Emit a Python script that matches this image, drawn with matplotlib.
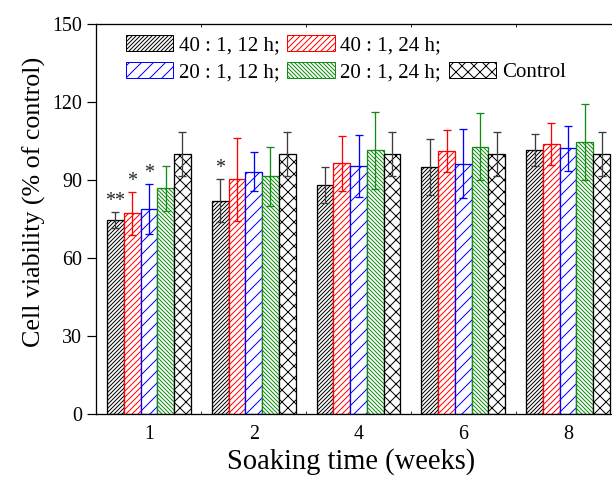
import numpy as np
import matplotlib
matplotlib.use("Agg")
import matplotlib.pyplot as plt
from matplotlib.patches import Patch, Rectangle

# --- data ---
weeks = ["1", "2", "4", "6", "8"]
labels = ["40 : 1, 12 h;", "40 : 1, 24 h;", "20 : 1, 12 h;", "20 : 1, 24 h;", "Control"]

v40_12 = [74.6, 82.1, 88.1, 94.9, 101.5]
e40_12 = [3.0, 8.2, 7.0, 10.7, 6.1]
v40_24 = [77.2, 90.3, 96.4, 101.2, 103.8]
e40_24 = [8.3, 16.0, 10.5, 8.0, 8.2]
v20_12 = [78.7, 93.2, 95.4, 96.2, 102.2]
e20_12 = [9.6, 7.4, 11.8, 13.3, 8.7]
v20_24 = [86.8, 91.4, 101.5, 102.8, 104.6]
e20_24 = [8.6, 11.4, 14.8, 12.8, 14.6]
vctrl = [100, 100, 100, 100, 100]
ectrl = [8.4, 8.4, 8.4, 8.4, 8.4]

# significance marks: (group index, series index, text)
stars = [(0, 0, "**"), (0, 1, "*"), (0, 2, "*"), (1, 0, "*")]

values = [v40_12, v40_24, v20_12, v20_24, vctrl]
errors = [e40_12, e40_24, e20_12, e20_24, ectrl]

colors = ["black", "red", "blue", "#138a13", "black"]
ecolors = ["#3c3c3c", "red", "blue", "#138a13", "#3c3c3c"]
hatches = ["//////", "////", "//", "\\\\\\\\\\\\", "xx"]

plt.rcParams["font.family"] = "Liberation Serif"
plt.rcParams["hatch.linewidth"] = 1.0

fig = plt.figure(figsize=(612 / 72, 479 / 72), dpi=72)
ax = fig.add_axes([96 / 612, 65 / 479, 525 / 612, 390 / 479])

x = np.arange(len(weeks))
w = 0.16
for i in range(5):
    xs = x + (i - 2) * w
    ax.bar(xs, values[i], w, color="white", edgecolor=colors[i], hatch=hatches[i],
           linewidth=1.3, zorder=2)
    ax.errorbar(xs, values[i], yerr=errors[i], fmt="none", ecolor=ecolors[i],
                elinewidth=1.3, capsize=4, capthick=1.3, zorder=3)

for g, s, txt in stars:
    xp = x[g] + (s - 2) * w
    yp = values[s][g] + errors[s][g]
    ax.annotate(txt, (xp, yp), xytext=(0, 1), textcoords="offset points",
                ha="center", va="bottom", fontsize=20, color="#222222")

ax.set_xlim(-0.505, len(weeks) - 0.495)
ax.set_ylim(0, 150)
ax.set_yticks([0, 30, 60, 90, 120, 150])
ax.set_xticks(x)
ax.set_xticklabels(weeks)
ax.set_xticks(x[:-1] + 0.5, minor=True)
ax.tick_params(axis="y", direction="out", length=9, width=1.2, labelsize=20, pad=5)
ax.tick_params(axis="x", which="major", length=0, labelsize=20, pad=11)
ax.tick_params(axis="x", which="minor", direction="in", length=3, width=0.8,
               top=True, bottom=True)
for sp in ax.spines.values():
    sp.set_linewidth(1.3)

ax.set_xlabel("Soaking time (weeks)", fontsize=28.5, labelpad=4)
ax.xaxis.label.set_x(0.486)
ax.set_ylabel("Cell viability (% of control)", fontsize=26, labelpad=6)
ax.yaxis.label.set_y(0.544)

# legend: two rows, last column holds only "Control" in the second row
handles = [Patch(facecolor="white", edgecolor=colors[i], hatch=hatches[i], linewidth=1.0)
           for i in range(5)]
blank = Rectangle((0, 0), 1, 1, fill=False, edgecolor="none", visible=False)
leg_h = [handles[0], handles[2], handles[1], handles[3], blank, handles[4]]
leg_l = [labels[0], labels[2], labels[1], labels[3], "", labels[4]]
ax.legend(leg_h, leg_l, ncol=3, loc="upper left", frameon=False, fontsize=21,
          bbox_to_anchor=(126 / 612, 1 - 35 / 479), bbox_transform=fig.transFigure,
          borderpad=0, borderaxespad=0, handlelength=2.25, handleheight=0.8,
          handletextpad=0.28, columnspacing=0.35, labelspacing=0.3)

fig.savefig("out.png", dpi=72)
